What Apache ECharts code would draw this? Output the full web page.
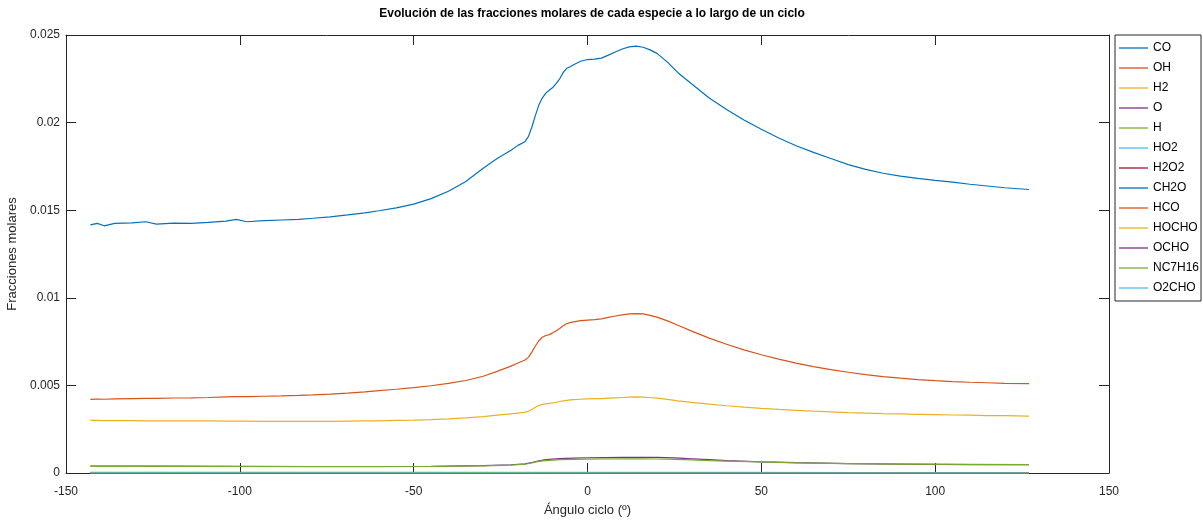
<!DOCTYPE html>
<html>
<head>
<meta charset="utf-8">
<script src="https://cdn.jsdelivr.net/npm/echarts@6/dist/echarts.min.js"></script>
<style>
  html, body { margin: 0; padding: 0; background: #fff; }
  #main { width: 1203px; height: 529px; }
</style>
</head>
<body>
<div id="main"></div>
<script>
// ángulos del ciclo (º) para las especies principales
var angle = [-143, -141, -139, -136, -131, -127, -124, -119, -114, -109, -104, -101, -98, -93, -88, -83, -79, -74, -69, -64,
  -60, -55, -50, -45, -40, -35, -30, -26, -22, -20, -18, -17, -16, -15, -14, -13, -12, -11, -10, -9,
  -8, -7, -6, -5, -4, -2, 0, 2, 4, 6, 8, 10, 12, 14, 16, 18, 20, 23, 26, 30,
  35, 40, 45, 50, 55, 60, 65, 70, 75, 80, 85, 90, 95, 100, 105, 110, 115, 120, 127];

var CO = [0.01416, 0.01425, 0.01411, 0.01425, 0.01428, 0.01434, 0.01421, 0.01426, 0.01425, 0.01430, 0.01438, 0.01448, 0.01434, 0.01440, 0.01444, 0.01448, 0.01454, 0.01462, 0.01473, 0.01485,
  0.01497, 0.01513, 0.01535, 0.01566, 0.01608, 0.01664, 0.01740, 0.01795, 0.01842, 0.01870, 0.01891, 0.01920, 0.01975, 0.02040, 0.02100, 0.02140, 0.02168, 0.02185, 0.02200, 0.02224,
  0.02250, 0.02285, 0.02310, 0.02319, 0.02330, 0.02350, 0.02360, 0.02362, 0.02368, 0.02385, 0.02403, 0.02420, 0.02432, 0.02436, 0.02430, 0.02415, 0.02395, 0.02345, 0.02285, 0.02220,
  0.02140, 0.02075, 0.02015, 0.01962, 0.01912, 0.01868, 0.01830, 0.01795, 0.01760, 0.01733, 0.01711, 0.01695, 0.01682, 0.01670, 0.01660, 0.01648, 0.01638, 0.01628, 0.01618];

var OH = [0.00420, 0.00422, 0.00421, 0.00423, 0.00425, 0.00426, 0.00426, 0.00428, 0.00429, 0.00431, 0.00434, 0.00436, 0.00436, 0.00438, 0.00440, 0.00443, 0.00446, 0.00450, 0.00456, 0.00463,
  0.00470, 0.00478, 0.00487, 0.00498, 0.00512, 0.00528, 0.00552, 0.00580, 0.00610, 0.00628, 0.00645, 0.00660, 0.00690, 0.00725, 0.00755, 0.00775, 0.00785, 0.00790, 0.00800, 0.00812,
  0.00825, 0.00840, 0.00852, 0.00858, 0.00863, 0.00870, 0.00873, 0.00875, 0.00880, 0.00888, 0.00896, 0.00903, 0.00908, 0.00910, 0.00908, 0.00900, 0.00890, 0.00868, 0.00843, 0.00810,
  0.00770, 0.00735, 0.00703, 0.00675, 0.00650, 0.00627, 0.00607, 0.00590, 0.00575, 0.00562, 0.00550, 0.00541, 0.00533, 0.00527, 0.00522, 0.00518, 0.00515, 0.00512, 0.00510];

var H2 = [0.00300, 0.00300, 0.00299, 0.00299, 0.00299, 0.00298, 0.00298, 0.00298, 0.00297, 0.00297, 0.00296, 0.00296, 0.00296, 0.00295, 0.00295, 0.00295, 0.00295, 0.00295, 0.00296, 0.00297,
  0.00298, 0.00300, 0.00302, 0.00305, 0.00309, 0.00315, 0.00322, 0.00330, 0.00338, 0.00342, 0.00347, 0.00352, 0.00362, 0.00375, 0.00385, 0.00392, 0.00395, 0.00397, 0.00400, 0.00404,
  0.00408, 0.00412, 0.00415, 0.00417, 0.00419, 0.00421, 0.00423, 0.00424, 0.00425, 0.00427, 0.00429, 0.00431, 0.00433, 0.00434, 0.00433, 0.00431, 0.00427, 0.00420, 0.00412, 0.00403,
  0.00393, 0.00384, 0.00376, 0.00369, 0.00363, 0.00358, 0.00353, 0.00349, 0.00345, 0.00342, 0.00339, 0.00337, 0.00335, 0.00333, 0.00331, 0.00330, 0.00328, 0.00327, 0.00325];

// ángulos para O y H
var angleLow = [-143, -120, -100, -80, -60, -45, -30, -22, -18, -16, -14, -12, -8, -4, 0, 5, 10, 15, 20, 25, 30, 35, 40, 50, 60, 75, 90, 110, 127];
var O = [0.00040, 0.00039, 0.00038, 0.00037, 0.00037, 0.00038, 0.00042, 0.00047, 0.00052, 0.00060, 0.00070, 0.00076, 0.00082, 0.00085, 0.00087, 0.00088, 0.00089, 0.00090, 0.00089, 0.00086, 0.00081, 0.00076, 0.00071, 0.00064, 0.00059, 0.00054, 0.00051, 0.00048, 0.00047];
var H = [0.00038, 0.00037, 0.00037, 0.00036, 0.00036, 0.00037, 0.00041, 0.00045, 0.00050, 0.00057, 0.00066, 0.00071, 0.00076, 0.00078, 0.00079, 0.00080, 0.00081, 0.00081, 0.00080, 0.00078, 0.00075, 0.00071, 0.00068, 0.00063, 0.00058, 0.00054, 0.00051, 0.00049, 0.00048];

// especies minoritarias (casi cero)
var angleMinor = [-143, -60, -20, 0, 15, 40, 80, 127];
var HO2 = [0.00002, 0.00002, 0.00003, 0.00004, 0.00004, 0.00003, 0.00002, 0.00002];
var H2O2 = [0.00001, 0.00001, 0.00001, 0.00002, 0.00002, 0.00001, 0.00001, 0.00001];
var CH2O = [0.00001, 0.00001, 0.00001, 0.00001, 0.00001, 0.00001, 0.00001, 0.00001];
var HCO = [0, 0, 0, 0.00001, 0.00001, 0, 0, 0];
var HOCHO = [0, 0, 0, 0, 0, 0, 0, 0];
var OCHO = [0, 0, 0, 0, 0, 0, 0, 0];
var NC7H16 = [0.00003, 0.00003, 0.00002, 0.00001, 0, 0, 0, 0];
var O2CHO = [0, 0, 0, 0, 0, 0, 0, 0];

var especies = ['CO', 'OH', 'H2', 'O', 'H', 'HO2', 'H2O2', 'CH2O', 'HCO', 'HOCHO', 'OCHO', 'NC7H16', 'O2CHO'];
var valores = [CO, OH, H2, O, H, HO2, H2O2, CH2O, HCO, HOCHO, OCHO, NC7H16, O2CHO];
var angulos = [angle, angle, angle, angleLow, angleLow, angleMinor, angleMinor, angleMinor, angleMinor, angleMinor, angleMinor, angleMinor, angleMinor];
var colores = ['#0072BD', '#D95319', '#EDB120', '#7E2F8E', '#77AC30', '#4DBEEE', '#A2142F'];

function pares(xs, ys) {
    return xs.map(function (x, i) { return [x, ys[i]]; });
}

var chartDom = document.getElementById('main');
var myChart = echarts.init(chartDom);
var fuente = "'Liberation Sans', Arial, sans-serif";
var gris = '#262626';

var series = especies.map(function (nombre, i) {
    return {
        name: nombre,
        type: 'line',
        symbol: 'none',
        showSymbol: false,
        animation: false,
        color: colores[i % colores.length],
        lineStyle: { width: 1.2, color: colores[i % colores.length] },
        data: pares(angulos[i], valores[i])
    };
});

// ejes con marcas hacia dentro, como la caja de MATLAB
function ejeCaja(extra) {
    var base = {
        type: 'value',
        axisLine: { show: true, onZero: false, lineStyle: { color: gris, width: 1 } },
        axisTick: { show: true, inside: true, length: 10, lineStyle: { color: gris } },
        splitLine: { show: false }
    };
    return Object.assign(base, extra);
}

var option = {
    backgroundColor: '#fff',
    animation: false,
    textStyle: { fontFamily: fuente },
    title: {
        text: 'Evolución de las fracciones molares de cada especie a lo largo de un ciclo',
        left: 587,
        textAlign: 'center',
        top: 3,
        textStyle: { fontFamily: fuente, fontSize: 12, fontWeight: 'bold', color: '#000' }
    },
    legend: {
        orient: 'vertical',
        left: 1115,
        top: 35,
        padding: [6, 2, 6, 4],
        icon: 'rect',
        itemWidth: 29,
        itemHeight: 1.3,
        itemGap: 6,
        backgroundColor: '#fff',
        borderColor: gris,
        borderWidth: 1,
        textStyle: { fontFamily: fuente, fontSize: 12, color: '#000', lineHeight: 14 },
        data: especies
    },
    grid: { left: 66, right: 94, top: 35, bottom: 56, containLabel: false, outerBoundsMode: 'none' },
    xAxis: [
        ejeCaja({
            min: -150, max: 150, interval: 50,
            name: 'Ángulo ciclo (º)',
            nameLocation: 'middle',
            nameGap: 31,
            nameTextStyle: { fontFamily: fuente, fontSize: 13, color: gris },
            axisLabel: { margin: 13, fontFamily: fuente, fontSize: 12, color: gris }
        }),
        ejeCaja({
            position: 'top',
            min: -150, max: 150, interval: 50,
            axisLabel: { show: false }
        })
    ],
    yAxis: [
        ejeCaja({
            min: 0, max: 0.025, interval: 0.005,
            name: 'Fracciones molares',
            nameLocation: 'middle',
            nameGap: 45,
            nameTextStyle: { fontFamily: fuente, fontSize: 13, color: gris },
            axisLabel: { margin: 6, fontFamily: fuente, fontSize: 12, color: gris }
        }),
        ejeCaja({
            position: 'right',
            min: 0, max: 0.025, interval: 0.005,
            axisLabel: { show: false }
        })
    ],
    series: series
};

option && myChart.setOption(option);
</script>
</body>
</html>
